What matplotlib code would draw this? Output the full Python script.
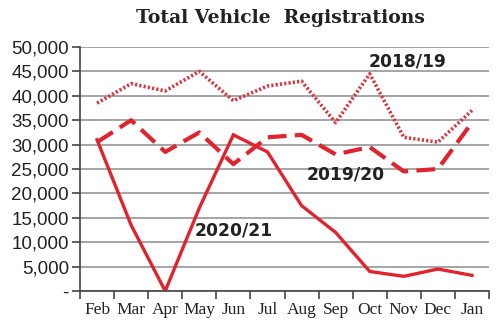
import matplotlib
matplotlib.use("Agg")
import matplotlib.pyplot as plt
import numpy as np

months = ["Feb", "Mar", "Apr", "May", "Jun", "Jul", "Aug", "Sep", "Oct", "Nov", "Dec", "Jan"]
fy1819 = [38500, 42500, 41000, 45000, 39000, 42000, 43000, 34500, 44500, 31500, 30500, 37000]
fy1920 = [30500, 35000, 28500, 32500, 26000, 31500, 32000, 28000, 29500, 24500, 25000, 34500]
fy2021 = [31000, 13500, 0, 17000, 32000, 28500, 17500, 12000, 4000, 3000, 4500, 3200]
yticks = [0, 5000, 10000, 15000, 20000, 25000, 30000, 35000, 40000, 45000, 50000]
ylabels = ["-", "5,000", "10,000", "15,000", "20,000", "25,000", "30,000", "35,000", "40,000", "45,000", "50,000"]

red = "#e1232d"
fig = plt.figure(figsize=(5, 3.21), dpi=100)
ax = fig.add_axes([0.16, 0.0935, 0.818, 0.76])
x = np.arange(len(months))

ax.plot(x, fy1819, color="#d9333d", lw=2.6, linestyle=(0, (0.6, 0.6)), dash_capstyle="butt")
ax.plot(x, fy1920, color=red, lw=3.0, linestyle=(0, (4.5, 2.0)), dash_capstyle="butt")
ax.plot(x, fy2021, color=red, lw=2.4, solid_joinstyle="miter")

ax.set_xlim(-0.5, len(months) - 0.5)
ax.set_ylim(0, 50000)
ax.set_yticks(yticks)
ax.set_yticklabels(ylabels, fontsize=13.5, family="Liberation Sans", color="#222222")
ax.set_xticks(x)
ax.set_xticklabels(months, fontsize=12.5, family="Liberation Serif", color="#222222")
ax.set_xticks(np.arange(-0.5, len(months)), minor=True)
ax.tick_params(axis="x", which="major", length=0, pad=8)
ax.tick_params(axis="x", which="minor", length=6, width=1.2, color="#444444", direction="out")
ax.tick_params(axis="y", length=6, width=1.2, color="#444444", pad=2)
ax.grid(axis="y", color="#a5a5a5", lw=1.4)
ax.set_axisbelow(True)
for s in ["top", "right"]:
    ax.spines[s].set_visible(False)
for s in ["left", "bottom"]:
    ax.spines[s].set_color("#444444")
    ax.spines[s].set_linewidth(1.2)

ax.text(9.1, 47000, "2018/19", fontsize=12.3, fontweight="bold", family="DejaVu Sans", color="#222222", va="center", ha="center")
ax.text(7.3, 23900, "2019/20", fontsize=12.3, fontweight="bold", family="DejaVu Sans", color="#222222", va="center", ha="center")
ax.text(4.0, 12400, "2020/21", fontsize=12.3, fontweight="bold", family="DejaVu Sans", color="#222222", va="center", ha="center")

fig.text(0.561, 0.943, "Total Vehicle  Registrations", fontsize=13.5, fontweight="bold", family="DejaVu Serif", color="#222222", ha="center", va="center")

fig.savefig("out.png", dpi=100)
